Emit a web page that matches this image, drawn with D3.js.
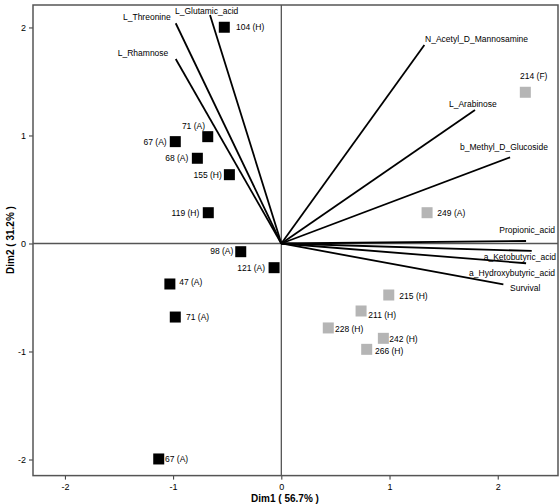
<!DOCTYPE html>
<html>
<head>
<meta charset="utf-8">
<script src="https://cdn.jsdelivr.net/npm/d3@7"></script>
<style>
  html, body { margin: 0; padding: 0; background: #fff; }
  svg { display: block; }
  text { font-family: "Liberation Sans", Arial, sans-serif; fill: #000; }
</style>
</head>
<body>
<svg id="chart" width="560" height="504"></svg>
<script>
// ---- data ----
const vecNames = ["L_Glutamic_acid", "L_Threonine", "L_Rhamnose", "N_Acetyl_D_Mannosamine",
  "L_Arabinose", "b_Methyl_D_Glucoside", "Propionic_acid", "a_Ketobutyric_acid",
  "a_Hydroxybutyric_acid", "Survival"];
const vecX = [-0.659, -0.976, -0.976, 1.322, 1.790, 2.114, 2.262, 2.314, 2.262, 2.052];
const vecY = [2.116, 2.039, 1.708, 1.838, 1.236, 0.798, 0.023, -0.069, -0.183, -0.378];

const ptLabels = ["104 (H)", "71 (A)", "67 (A)", "68 (A)", "155 (H)", "119 (H)", "98 (A)",
  "121 (A)", "47 (A)", "71 (A)", "67 (A)", "214 (F)", "249 (A)", "215 (H)", "211 (H)",
  "228 (H)", "242 (H)", "266 (H)"];
const ptX = [-0.527, -0.680, -0.980, -0.776, -0.480, -0.675, -0.375, -0.067, -1.030,
  -0.980, -1.133, 2.255, 1.347, 0.993, 0.737, 0.434, 0.943, 0.789];
const ptY = [2.002, 0.989, 0.943, 0.789, 0.637, 0.285, -0.076, -0.224, -0.375,
  -0.681, -1.995, 1.400, 0.285, -0.477, -0.625, -0.782, -0.878, -0.980];
const ptGroup = ["dark", "dark", "dark", "dark", "dark", "dark", "dark", "dark", "dark",
  "dark", "dark", "light", "light", "light", "light", "light", "light", "light"];

const xTicks = [-2, -1, 0, 1, 2];
const yTicks = [-2, -1, 0, 1, 2];
const xTitle = "Dim1 ( 56.7% )";
const yTitle = "Dim2 ( 31.2% )";

// ---- label placement (pixel offsets, anchor) ----
const vecLabelPlace = [
  [-35, -4.3, "start"], [-5, -6, "end"], [-7.4, -5.7, "end"], [0.7, -6, "start"],
  [-26, -6, "start"], [-50, -10, "start"], [29, -11, "end"], [24.3, 6.3, "end"],
  [29, 10, "end"], [6.7, 4, "start"]
];
const ptLabelPlace = [
  [11.7, 0, "start"], [-2.7, -10.7, "end"], [-8.6, 0, "end"], [-9, 0, "end"],
  [-7.6, 0, "end"], [-9, 0, "end"], [-7.4, -1, "end"], [-9, 0, "end"],
  [9.3, -2.3, "start"], [10.7, 0, "start"], [6.3, 0, "start"], [-5.3, -16.3, "start"],
  [10.3, 0, "start"], [10.6, 0.7, "start"], [7.3, 4.3, "start"], [6.7, 1.3, "start"],
  [6, 1, "start"], [8.3, 1.4, "start"]
];

// ---- layout ----
const L = 33, R = 558, T = 5, B = 475.6;
const x = d3.scaleLinear().domain([-2.295, 2.557]).range([L, R]);
const y = d3.scaleLinear().domain([-2.149, 2.208]).range([B, T]);

const svg = d3.select("#chart");
const frameColor = "#555";

// axes
const xAxis = d3.axisBottom(x).tickValues(xTicks).tickSize(4).tickPadding(4)
  .tickFormat(d => String(d));
const yAxis = d3.axisLeft(y).tickValues(yTicks).tickSize(4).tickPadding(3)
  .tickFormat(d => String(d));

const gx = svg.append("g").attr("transform", `translate(0,${B})`).call(xAxis);
const gy = svg.append("g").attr("transform", `translate(${L},0)`).call(yAxis);
[gx, gy].forEach(g => {
  g.select(".domain").remove();
  g.selectAll(".tick line").attr("stroke", "#333").attr("stroke-width", 1);
  g.selectAll(".tick text").attr("font-size", 9).attr("fill", "#000")
    .attr("font-family", "Liberation Sans, Arial, sans-serif");
});

// frame
svg.append("rect").attr("x", L).attr("y", T).attr("width", R - L).attr("height", B - T)
  .attr("fill", "none").attr("stroke", frameColor).attr("stroke-width", 1.5);

// zero lines
svg.append("line").attr("x1", x(0)).attr("x2", x(0)).attr("y1", T).attr("y2", B)
  .attr("stroke", frameColor).attr("stroke-width", 1.3);
svg.append("line").attr("x1", L).attr("x2", R).attr("y1", y(0)).attr("y2", y(0))
  .attr("stroke", frameColor).attr("stroke-width", 1.3);

// vectors
const vecs = vecNames.map((n, i) => ({ name: n, vx: vecX[i], vy: vecY[i], place: vecLabelPlace[i] }));
svg.append("g").selectAll("line").data(vecs).join("line")
  .attr("x1", x(0)).attr("y1", y(0))
  .attr("x2", d => x(d.vx)).attr("y2", d => y(d.vy))
  .attr("stroke", "#000").attr("stroke-width", 1.8);

svg.append("g").selectAll("text").data(vecs).join("text")
  .attr("x", d => x(d.vx) + d.place[0])
  .attr("y", d => y(d.vy) + d.place[1])
  .attr("dy", "0.35em")
  .attr("text-anchor", d => d.place[2])
  .attr("font-size", 8.5)
  .text(d => d.name);

// points
const pts = ptLabels.map((l, i) => ({ label: l, px: ptX[i], py: ptY[i], g: ptGroup[i], place: ptLabelPlace[i] }));
const sz = 11;
svg.append("g").selectAll("rect").data(pts).join("rect")
  .attr("x", d => x(d.px) - sz / 2).attr("y", d => y(d.py) - sz / 2)
  .attr("width", sz).attr("height", sz)
  .attr("fill", d => d.g === "dark" ? "#000" : "#b5b5b5");

svg.append("g").selectAll("text").data(pts).join("text")
  .attr("x", d => x(d.px) + d.place[0])
  .attr("y", d => y(d.py) + d.place[1])
  .attr("dy", "0.35em")
  .attr("text-anchor", d => d.place[2])
  .attr("font-size", 8.5)
  .text(d => d.label);

// axis titles
svg.append("text").attr("x", 285).attr("y", 498).attr("dy", "0.35em")
  .attr("text-anchor", "middle").attr("font-size", 10).attr("font-weight", "bold")
  .text(xTitle);
svg.append("text").attr("transform", "translate(10,240) rotate(-90)")
  .attr("dy", "0.35em").attr("text-anchor", "middle")
  .attr("font-size", 10).attr("font-weight", "bold")
  .text(yTitle);
</script>
</body>
</html>
